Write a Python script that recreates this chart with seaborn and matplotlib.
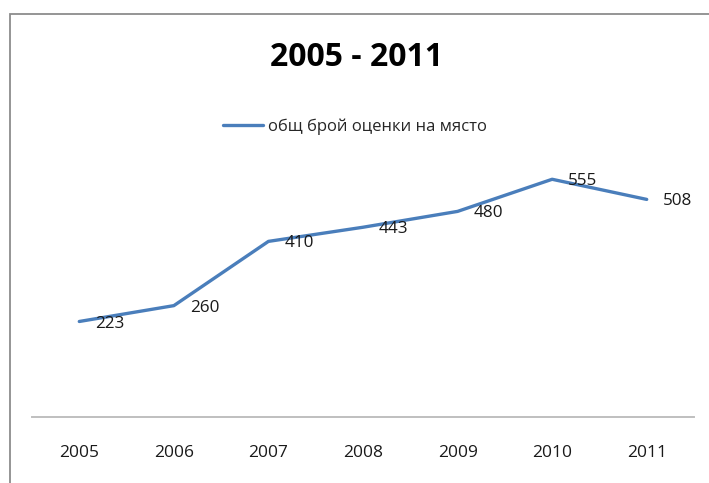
import matplotlib.pyplot as plt
import pandas as pd
import seaborn as sns
from matplotlib.patches import Rectangle

# Data
years = ['2005', '2006', '2007', '2008', '2009', '2010', '2011']
values = [223, 260, 410, 443, 480, 555, 508]
series_name = 'общ брой оценки на място'
title = '2005 - 2011'

df = pd.DataFrame({'year': years, 'value': values})

sns.set_style('white')
plt.rcParams['font.family'] = ['Open Sans', 'DejaVu Sans']

fig = plt.figure(figsize=(7.09, 4.83), dpi=100)
fig.patch.set_facecolor('white')

# Chart-area border that runs off the right and bottom edges
fig.patches.append(Rectangle((10 / 709, -0.1), 1.2, 0.1 + (483 - 14) / 483,
                             transform=fig.transFigure, fill=False,
                             edgecolor='#8c8c8c', linewidth=1.3, zorder=0))

ax = fig.add_axes([32 / 709, (483 - 417) / 483, 662 / 709, 257 / 483])

sns.lineplot(data=df, x='year', y='value', ax=ax, color='#4a7ebb',
             linewidth=2.4, label=series_name, legend=False, sort=False)

for i, v in enumerate(values):
    ax.annotate(str(v), (i, v), xytext=(11.5, -1.5), textcoords='offset points',
                ha='left', va='center', fontsize=12.3, color='#1a1a1a')

ax.set_xlim(-0.5, 6.5)
ax.set_ylim(0, 600)
ax.set_xlabel('')
ax.set_ylabel('')
ax.set_yticks([])
ax.tick_params(axis='x', length=0, pad=20, labelsize=12.5, labelcolor='#1a1a1a')

for side in ['top', 'right', 'left']:
    ax.spines[side].set_visible(False)
ax.spines['bottom'].set_color('#bfbfbf')
ax.spines['bottom'].set_linewidth(1.4)
ax.patch.set_alpha(0)

fig.text(357 / 709, 1 - 57 / 483, title, ha='center', va='center',
         fontsize=23, fontweight='bold', color='black')

handles, labels = ax.get_legend_handles_labels()
fig.legend(handles, labels, loc='center', bbox_to_anchor=(355 / 709, 1 - 127 / 483),
           frameon=False, fontsize=12, handlelength=2.4, handletextpad=0.25)

fig.savefig('out.png', dpi=100)
